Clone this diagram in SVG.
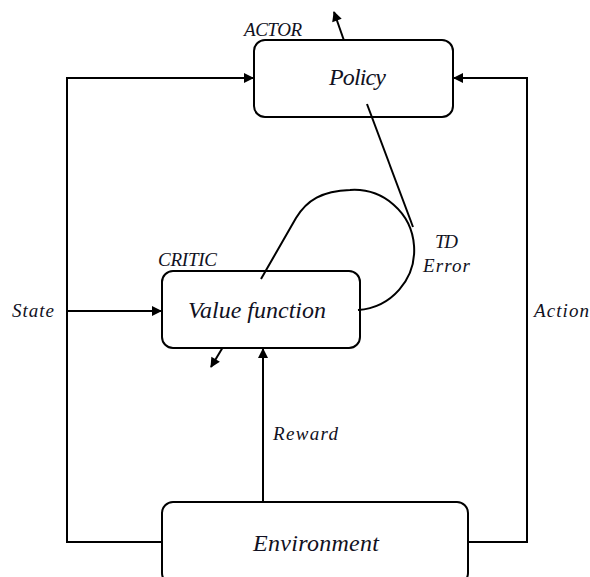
<svg xmlns="http://www.w3.org/2000/svg" width="590" height="577" viewBox="0 0 590 577">
  <style>
    .box { fill: #ffffff; stroke: #000000; stroke-width: 2; }
    .wire { fill: none; stroke: #000000; stroke-width: 2; }
    .arrow { fill: none; stroke: #000000; stroke-width: 2; marker-end: url(#head); }
    .lbl { font-family: "Liberation Serif", "Times New Roman", serif; font-style: italic; fill: #111122; }
    .big { font-size: 24px; }
    .small { font-size: 19px; }
  </style>
  <defs>
    <marker id="head" viewBox="0 0 10 10" refX="9" refY="5" markerWidth="5.5" markerHeight="5" markerUnits="strokeWidth" orient="auto">
      <path d="M0,0 L10,5 L0,10 Z" fill="#000000"/>
    </marker>
  </defs>
  <rect width="590" height="577" fill="#ffffff"/>

  <!-- connectors -->
  <g id="connectors">
    <!-- state feedback loop on the left -->
    <path class="arrow" d="M162,542 H67 V78 H253"/>
    <path class="arrow" d="M67,311 H161"/>
    <!-- action loop on the right -->
    <path class="arrow" d="M468,542 H527 V78 H454"/>
    <!-- reward -->
    <path class="arrow" d="M263,502 V349"/>
    <!-- policy update arrow -->
    <path class="arrow" d="M348,52 L334,12"/>
    <!-- critic update arrow -->
    <path class="arrow" d="M226,342 L211,367"/>
  </g>

  <!-- nodes -->
  <g id="policy">
    <rect class="box" x="254" y="40" width="199" height="77" rx="11"/>
    <text class="lbl small" x="244" y="36" textLength="58">ACTOR</text>
    <text class="lbl big" x="329" y="85" textLength="57">Policy</text>
  </g>
  <g id="value">
    <rect class="box" x="162" y="271" width="198" height="77" rx="11"/>
    <text class="lbl small" x="158" y="266" textLength="59">CRITIC</text>
    <text class="lbl big" x="188" y="318" textLength="138">Value function</text>
  </g>
  <g id="environment">
    <rect class="box" x="162" y="502" width="306" height="82" rx="11"/>
    <text class="lbl big" x="253" y="551" textLength="126">Environment</text>
  </g>

  <!-- TD error signal: from the critic, looping round, fed to the actor -->
  <g id="td-error">
    <path class="wire" d="M261,279 L296,218 C307,200 322,191 350,190 A60,60 0 1 1 358,310 L360,310"/>
    <path class="wire" d="M367,104 L413,227"/>
    <text class="lbl small" x="435" y="248" textLength="23">TD</text>
    <text class="lbl small" x="423" y="272" textLength="47">Error</text>
  </g>

  <!-- edge labels -->
  <g id="labels">
    <text class="lbl small" x="12" y="317" textLength="42">State</text>
    <text class="lbl small" x="534" y="317" textLength="55">Action</text>
    <text class="lbl small" x="273" y="440" textLength="65">Reward</text>
  </g>
</svg>
